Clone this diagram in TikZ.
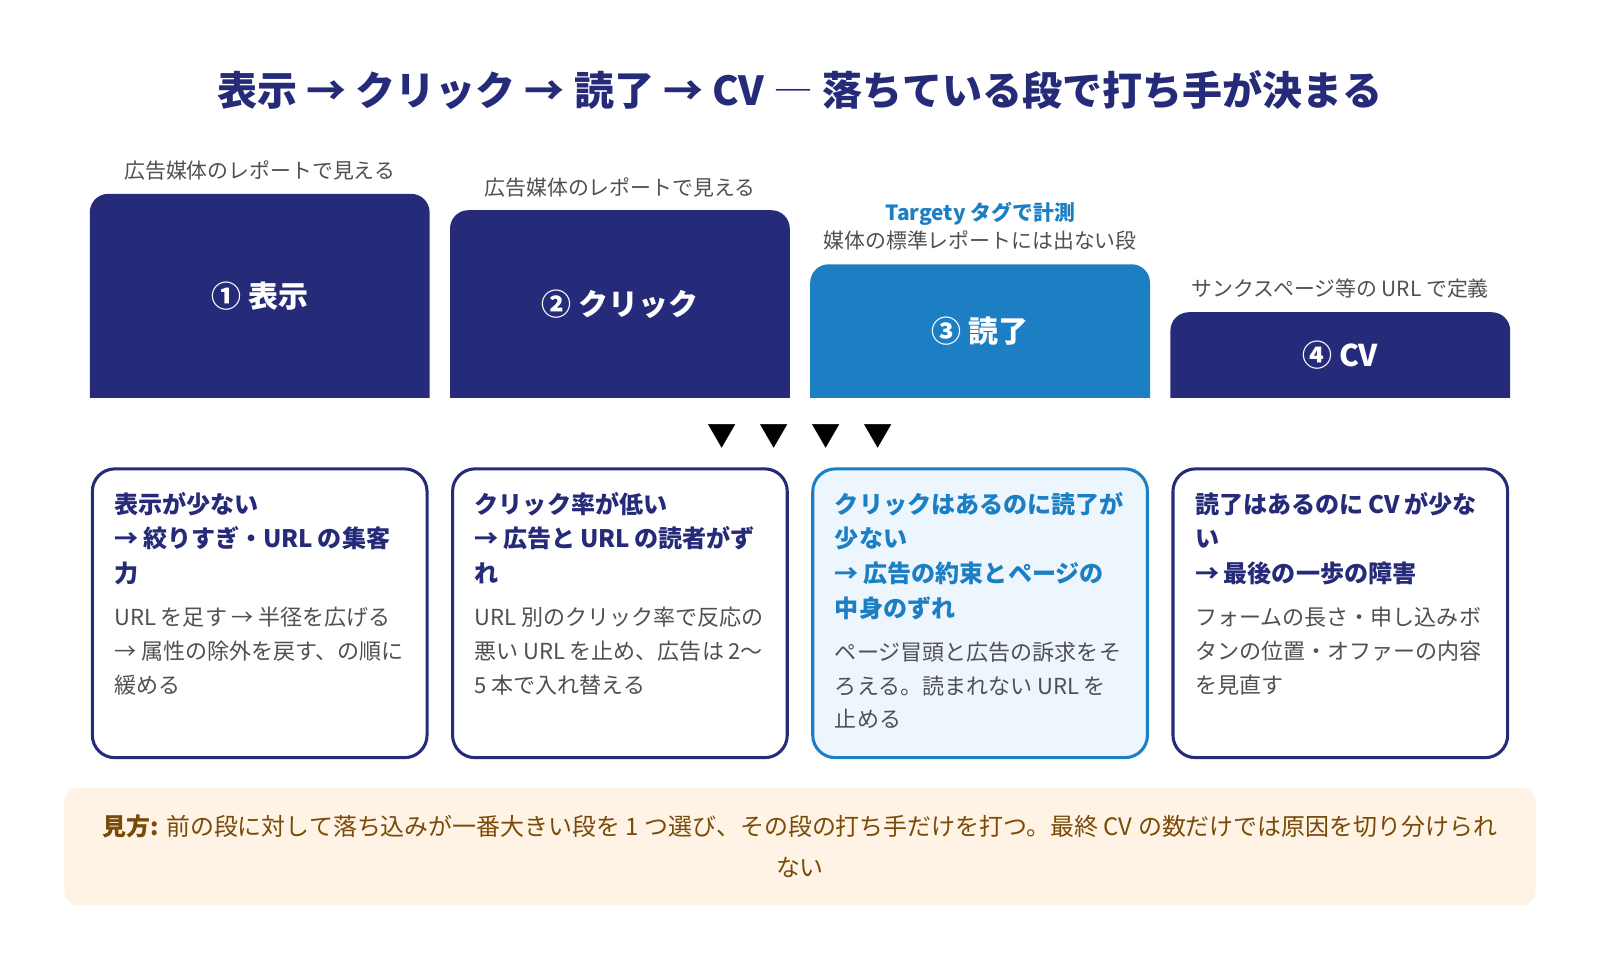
\documentclass[tikz,border=0pt]{standalone}
\usepackage{fontspec}
\setmainfont{Noto Sans CJK JP}
\definecolor{navy}{RGB}{37,43,120}
\definecolor{skyb}{RGB}{28,127,196}
\definecolor{lightb}{RGB}{238,246,253}
\definecolor{greyt}{RGB}{80,80,84}
\definecolor{notebg}{RGB}{254,243,228}
\definecolor{notetx}{RGB}{122,74,8}
\newcommand\hdtext[1]{{\fontsize{17.7}{25.5}\selectfont\bfseries #1\par}}
\newcommand\bdtext[1]{{\fontsize{16.2}{24.75}\selectfont\color{greyt} #1\par}}
\newcommand\funnelbar[3]{\fill[#3] (#1,390) {[rounded corners=13.5pt] |- (#1+166,#2) -| (#1+333,#2+40)} -- (#1+333,390) -- cycle;}
\tikzset{
  barlabel/.style={text=white, font=\fontsize{22}{25}\selectfont\bfseries, inner sep=0pt},
  toplabel/.style={text=greyt, font=\fontsize{15.35}{19.5}\selectfont, inner sep=0pt, align=center},
  cardbox/.style={draw=navy, line width=2.25pt, rounded corners=16.5pt, fill=white,
    minimum width=328*0.75pt, minimum height=283*0.75pt, inner sep=0pt},
  cardtext/.style={anchor=north west, inner sep=0pt, align=left, text width=270pt},
  tri/.style={font=\fontsize{21.5}{21.5}\selectfont, inner sep=0pt, text=black},
}
\begin{document}
\begin{tikzpicture}[x=0.75pt,y=-0.75pt]
\useasboundingbox (0,0) rectangle (1568,940.8);
% title
\node[text=navy, font=\fontsize{29.4}{32}\selectfont\bfseries, inner sep=0pt] (title) at (784,88)
  {表示 → クリック → 読了 → CV {\mdseries ―} 落ちている段で打ち手が決まる};
% bars
\funnelbar{88}{190}{navy}
\funnelbar{441}{206}{navy}
\funnelbar{794}{259}{skyb}
\funnelbar{1147}{306}{navy}
\node[barlabel] (l1) at (254.5,290) {① 表示};
\node[barlabel] (l2) at (607.5,298) {② クリック};
\node[barlabel] (l3) at (960.5,324.5) {③ 読了};
\node[barlabel] (l4) at (1313.5,348) {④ CV};
\node[toplabel] (s1) at (254.5,167) {広告媒体のレポートで見える};
\node[toplabel] (s2) at (607.5,184) {広告媒体のレポートで見える};
\node[toplabel, text=skyb, font=\fontsize{15.35}{19.5}\selectfont\bfseries] (s3a) at (960.5,210) {Targety タグで計測};
\node[toplabel] (s3b) at (960.5,236) {媒体の標準レポートには出ない段};
\node[toplabel] (s4) at (1313.5,283) {サンクスページ等の URL で定義};
% triangles
\node[tri] (t1) at (708,428) {▼};
\node[tri] (t2) at (759,428) {▼};
\node[tri] (t3) at (810,428) {▼};
\node[tri] (t4) at (861,428) {▼};
% cards
\node[cardbox] (c1) at (254.5,601) {};
\node[cardbox] (c2) at (607.5,601) {};
\node[cardbox, draw=skyb, fill=lightb] (c3) at (960.5,601) {};
\node[cardbox] (c4) at (1313.5,601) {};
\node[cardtext, text=navy] (x1) at (112,482) {\hdtext{表示が少ない\\→ 絞りすぎ・URL の集客\\力}\vspace{7pt}\bdtext{URL を足す → 半径を広げる\\→ 属性の除外を戻す、の順に\\緩める}};
\node[cardtext, text=navy] (x2) at (465,482) {\hdtext{クリック率が低い\\→ 広告と URL の読者がず\\れ}\vspace{7pt}\bdtext{URL 別のクリック率で反応の\\悪い URL を止め、広告は 2〜\\5 本で入れ替える}};
\node[cardtext, text=skyb] (x3) at (818,482) {\hdtext{クリックはあるのに読了が\\少ない\\→ 広告の約束とページの\\中身のずれ}\vspace{7pt}\bdtext{ページ冒頭と広告の訴求をそ\\ろえる。読まれない URL を\\止める}};
\node[cardtext, text=navy] (x4) at (1171,482) {\hdtext{読了はあるのに CV が少な\\い\\→ 最後の一歩の障害}\vspace{7pt}\bdtext{フォームの長さ・申し込みボ\\タンの位置・オファーの内容\\を見直す}};
% note
\node[fill=notebg, rounded corners=10.5pt, minimum width=1442*0.75pt, minimum height=115*0.75pt, inner sep=0pt] (note) at (784,829.5) {};
\node[text=notetx, font=\fontsize{17.6}{30}\selectfont, align=center, inner sep=0pt] (notetext) at (784,829)
  {\textbf{見方:} 前の段に対して落ち込みが一番大きい段を 1 つ選び、その段の打ち手だけを打つ。最終 CV の数だけでは原因を切り分けられ\\ない};
\end{tikzpicture}
\end{document}
